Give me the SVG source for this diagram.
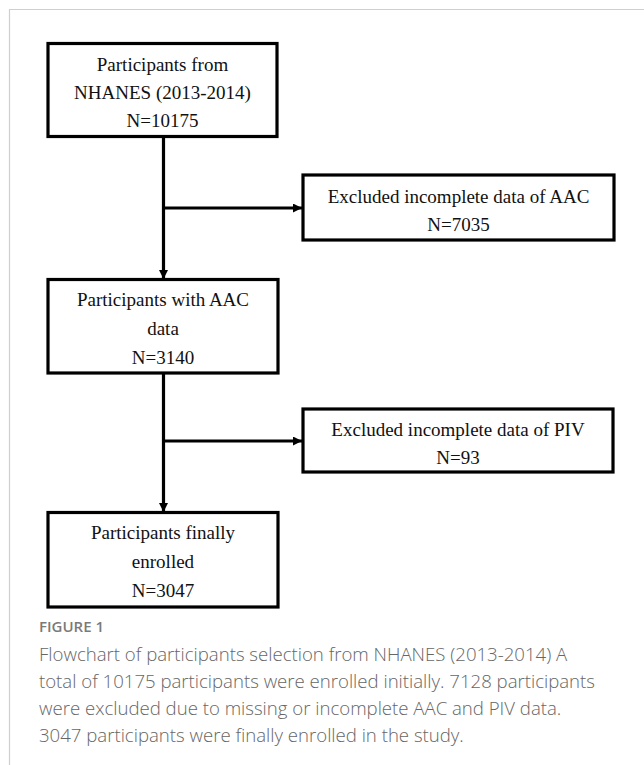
<svg xmlns="http://www.w3.org/2000/svg" width="644" height="765" viewBox="0 0 644 765">
<style>
.box{fill:#fff;stroke:#000;stroke-width:3.2}
.t{font-family:"Liberation Serif","Times New Roman",serif;font-size:19px;fill:#111;text-anchor:middle}
.c{fill:none;stroke:#000;stroke-width:3.2}
.cap{font-family:"Open Sans","Liberation Sans",sans-serif;font-size:18.6px;font-weight:300;fill:#666}
.fig{font-family:"Open Sans","Liberation Sans",sans-serif;font-size:15px;font-weight:600;fill:#7a7a7a}
</style>
<defs>
<marker id="ah" markerUnits="userSpaceOnUse" markerWidth="10" markerHeight="10" refX="9" refY="4.5" orient="auto">
<path d="M0,0 L9,4.5 L0,9 z" fill="#000"/>
</marker>
</defs>
<rect x="0" y="0" width="644" height="765" fill="#fff"/>
<path d="M9.5 765 V9.5 H644" fill="none" stroke="#cfcfcf" stroke-width="1.2"/>
<g id="connectors">
<path class="c" d="M163.5 136 V279" marker-end="url(#ah)"/>
<path class="c" d="M163.5 208 H302" marker-end="url(#ah)"/>
<path class="c" d="M163.5 373 V512" marker-end="url(#ah)"/>
<path class="c" d="M163.5 441 H302" marker-end="url(#ah)"/>
</g>
<g id="n1">
<rect class="box" x="48" y="43.5" width="229" height="93"/>
<text class="t" x="162.5" y="71">Participants from</text>
<text class="t" x="162.5" y="99">NHANES (2013-2014)</text>
<text class="t" x="162.5" y="127">N=10175</text>
</g>
<g id="n2">
<rect class="box" x="303" y="175" width="311" height="65"/>
<text class="t" x="458.5" y="203">Excluded incomplete data of AAC</text>
<text class="t" x="458.5" y="231">N=7035</text>
</g>
<g id="n3">
<rect class="box" x="48" y="279.5" width="230" height="93.5"/>
<text class="t" x="163" y="306">Participants with AAC</text>
<text class="t" x="163" y="335">data</text>
<text class="t" x="163" y="364">N=3140</text>
</g>
<g id="n4">
<rect class="box" x="303" y="409" width="310" height="63"/>
<text class="t" x="458" y="436">Excluded incomplete data of PIV</text>
<text class="t" x="458" y="464">N=93</text>
</g>
<g id="n5">
<rect class="box" x="48" y="512.5" width="230" height="94.5"/>
<text class="t" x="163" y="539">Participants finally</text>
<text class="t" x="163" y="568">enrolled</text>
<text class="t" x="163" y="597">N=3047</text>
</g>
<g id="caption">
<text class="fig" x="39" y="632">FIGURE 1</text>
<text class="cap" x="39" y="661">Flowchart of participants selection from NHANES (2013-2014) A</text>
<text class="cap" x="39" y="688">total of 10175 participants were enrolled initially. 7128 participants</text>
<text class="cap" x="39" y="715">were excluded due to missing or incomplete AAC and PIV data.</text>
<text class="cap" x="39" y="742">3047 participants were finally enrolled in the study.</text>
</g>
</svg>
